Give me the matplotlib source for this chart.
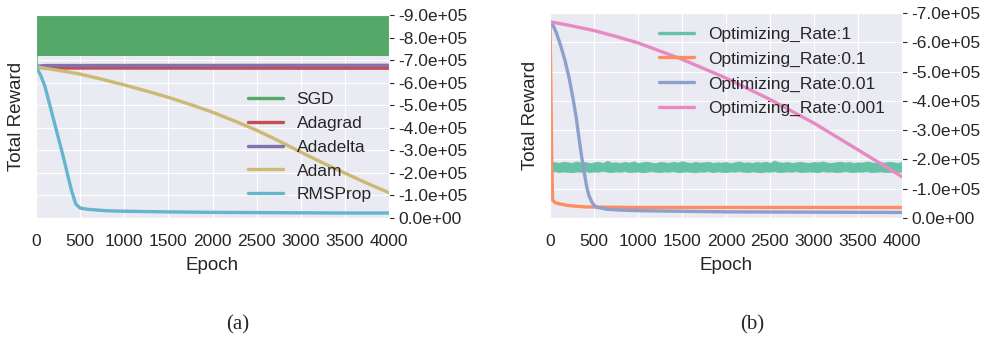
import matplotlib
matplotlib.use("Agg")
import matplotlib.pyplot as plt
import seaborn as sns
from matplotlib.ticker import FuncFormatter

sns.set_style("darkgrid")
plt.rcParams["font.family"] = ["Liberation Sans", "DejaVu Sans"]

# ---- panel (a): optimizers ----
opt_names = ["SGD", "Adagrad", "Adadelta", "Adam", "RMSProp"]
opt_colors = ["#55A868", "#C44E52", "#8172B2", "#CCB974", "#64B5CD"]

sgd_epochs = [0, 1]
sgd_vals = [-6.7e5, -7.2e5]
# SGD oscillates wildly, shown as its envelope
sgd_band_epochs = [1, 4000]
sgd_band_low = [-7.2e5, -7.2e5]
sgd_band_high = [-9.5e5, -9.5e5]

adagrad_epochs = [0, 100, 4000]
adagrad_vals = [-6.7e5, -6.65e5, -6.64e5]

adadelta_epochs = [0, 100, 4000]
adadelta_vals = [-6.72e5, -6.76e5, -6.77e5]

adam_epochs = [0, 250, 500, 750, 1000, 1250, 1500, 1750, 2000, 2250, 2500,
               2750, 3000, 3250, 3500, 3750, 4000]
adam_vals = [-6.7e5, -6.55e5, -6.38e5, -6.15e5, -5.9e5, -5.63e5, -5.35e5,
             -5.03e5, -4.69e5, -4.3e5, -3.89e5, -3.42e5, -2.92e5, -2.44e5,
             -1.99e5, -1.54e5, -1.12e5]

rms_epochs = [0, 50, 100, 150, 200, 250, 300, 350, 400, 450, 500, 600, 800,
              1000, 1500, 2000, 2500, 3000, 3500, 4000]
rms_vals = [-6.7e5, -6.35e5, -5.85e5, -5.1e5, -4.35e5, -3.6e5, -2.85e5,
            -2.05e5, -1.25e5, -0.62e5, -0.44e5, -0.38e5, -0.32e5, -0.3e5,
            -0.27e5, -0.25e5, -0.24e5, -0.23e5, -0.22e5, -0.22e5]

# ---- panel (b): learning rates ----
rate_names = ["Optimizing_Rate:1", "Optimizing_Rate:0.1",
              "Optimizing_Rate:0.01", "Optimizing_Rate:0.001"]
rate_colors = ["#66c2a5", "#fc8d62", "#8da0cb", "#e78ac3"]

r1_epochs = [0, 5]
r1_vals = [-1.07e5, -1.75e5]
# rate 1 is a noisy band, kept as its upper / lower edge (x1e5)
r1_band_epochs = list(range(0, 4001, 50))
r1_band_epochs[0] = 8
r1_band_top = [-1.89, -1.91, -1.88, -1.92, -1.90, -1.88, -1.93, -1.89, -1.91,
               -1.87, -1.90, -1.92, -1.88, -1.95, -1.89, -1.90, -1.88, -1.91,
               -1.89, -1.93, -1.88, -1.90, -1.92, -1.89, -1.87, -1.91, -1.90,
               -1.88, -1.92, -1.89, -1.94, -1.90, -1.88, -1.91, -1.89, -1.90,
               -1.92, -1.88, -1.90, -1.89, -1.91, -1.87, -1.90, -1.93, -1.89,
               -1.90, -1.88, -1.91, -1.89, -1.92, -1.88, -1.96, -1.90, -1.89,
               -1.91, -1.88, -1.90, -1.92, -1.89, -1.88, -1.91, -1.90, -1.93,
               -1.89, -1.88, -1.90, -1.92, -1.89, -1.91, -1.88, -1.90, -1.89,
               -1.93, -1.90, -1.88, -1.91, -1.89, -1.92, -1.90, -1.88, -1.91]
r1_band_bottom = [-1.58, -1.60, -1.57, -1.59, -1.58, -1.56, -1.59, -1.58,
                  -1.60, -1.57, -1.59, -1.58, -1.61, -1.58, -1.57, -1.59,
                  -1.58, -1.60, -1.57, -1.58, -1.59, -1.56, -1.58, -1.60,
                  -1.58, -1.57, -1.59, -1.58, -1.60, -1.57, -1.58, -1.59,
                  -1.58, -1.56, -1.59, -1.58, -1.60, -1.57, -1.59, -1.58,
                  -1.57, -1.59, -1.58, -1.60, -1.58, -1.57, -1.59, -1.58,
                  -1.56, -1.59, -1.58, -1.60, -1.57, -1.58, -1.59, -1.58,
                  -1.60, -1.57, -1.58, -1.59, -1.58, -1.57, -1.60, -1.58,
                  -1.59, -1.57, -1.58, -1.60, -1.58, -1.57, -1.59, -1.58,
                  -1.60, -1.57, -1.58, -1.59, -1.58, -1.57, -1.59, -1.58,
                  -1.58]

r01_epochs = [0, 10, 20, 30, 60, 114, 200, 265, 400, 600, 1000, 2000, 3000, 4000]
r01_vals = [-6.7e5, -4.5e5, -2.0e5, -0.61e5, -0.52e5, -0.48e5, -0.43e5,
            -0.41e5, -0.38e5, -0.37e5, -0.36e5, -0.36e5, -0.36e5, -0.36e5]

r001_epochs = [0, 40, 76, 120, 170, 220, 265, 300, 322, 360, 390, 417, 445,
               473, 500, 530, 644, 800, 1000, 1500, 2000, 3000, 4000]
r001_vals = [-6.7e5, -6.55e5, -6.3e5, -5.9e5, -5.39e5, -4.75e5, -4.03e5,
             -3.4e5, -2.9e5, -2.09e5, -1.55e5, -1.07e5, -0.75e5, -0.56e5,
             -0.44e5, -0.37e5, -0.30e5, -0.27e5, -0.25e5, -0.23e5, -0.21e5,
             -0.2e5, -0.19e5]

r0001_epochs = [0, 250, 500, 750, 1000, 1500, 2000, 2500, 3000, 3500, 4000]
r0001_vals = [-6.7e5, -6.56e5, -6.40e5, -6.2e5, -5.98e5, -5.42e5, -4.78e5,
              -4.05e5, -3.24e5, -2.33e5, -1.41e5]

x_ticks = [0, 500, 1000, 1500, 2000, 2500, 3000, 3500, 4000]

fig = plt.figure(figsize=(9.87, 3.41), dpi=100)
ax1 = fig.add_axes([0.0365, 0.3607, 0.3577, 0.5953])
ax2 = fig.add_axes([0.5572, 0.3607, 0.3566, 0.6012])

lw = 2.4
fmt = FuncFormatter(lambda v, p: "%.1e" % v)

# panel (a)
ax1.plot(sgd_epochs, sgd_vals, color=opt_colors[0], lw=lw, label=opt_names[0])
ax1.fill_between(sgd_band_epochs, sgd_band_low, sgd_band_high,
                 color=opt_colors[0], lw=0)
ax1.plot(adagrad_epochs, adagrad_vals, color=opt_colors[1], lw=lw, label=opt_names[1])
ax1.plot(adadelta_epochs, adadelta_vals, color=opt_colors[2], lw=lw, label=opt_names[2])
ax1.plot(adam_epochs, adam_vals, color=opt_colors[3], lw=lw, label=opt_names[3])
ax1.plot(rms_epochs, rms_vals, color=opt_colors[4], lw=lw, label=opt_names[4])
ax1.set_ylim(0, -9e5)
ax1.set_yticks([-i * 1e5 for i in range(10)])

# panel (b)
ax2.plot(r1_epochs, r1_vals, color=rate_colors[0], lw=lw, label=rate_names[0])
ax2.fill_between(r1_band_epochs, [v * 1e5 for v in r1_band_bottom],
                 [v * 1e5 for v in r1_band_top], color=rate_colors[0], lw=0.6)
ax2.plot(r01_epochs, r01_vals, color=rate_colors[1], lw=lw, label=rate_names[1])
ax2.plot(r001_epochs, r001_vals, color=rate_colors[2], lw=lw, label=rate_names[2])
ax2.plot(r0001_epochs, r0001_vals, color=rate_colors[3], lw=lw, label=rate_names[3])
ax2.set_ylim(0, -7e5)
ax2.set_yticks([-i * 1e5 for i in range(8)])

for ax in (ax1, ax2):
    ax.set_xlim(0, 4000)
    ax.set_xticks(x_ticks)
    ax.yaxis.tick_right()
    ax.yaxis.set_major_formatter(fmt)
    ax.tick_params(axis="y", labelsize=12.5, pad=3)
    ax.tick_params(axis="x", labelsize=12.5, pad=8)
    ax.set_xlabel("Epoch", fontsize=13.5, labelpad=6)
    ax.set_ylabel("Total Reward", fontsize=13.5, labelpad=8)
    ax.yaxis.set_label_position("left")

ax1.legend(loc="lower right", frameon=False, fontsize=12.5,
           bbox_to_anchor=(0.995, 0.0))
ax2.legend(loc="upper right", frameon=False, fontsize=12.5,
           labelspacing=0.55, bbox_to_anchor=(0.995, 1.01))

fig.text(238 / 987, 1 - 325 / 341, "(a)", ha="center", va="center",
         family="Liberation Serif", fontsize=15)
fig.text(752 / 987, 1 - 325 / 341, "(b)", ha="center", va="center",
         family="Liberation Serif", fontsize=15)

fig.savefig("out.png", dpi=100)
